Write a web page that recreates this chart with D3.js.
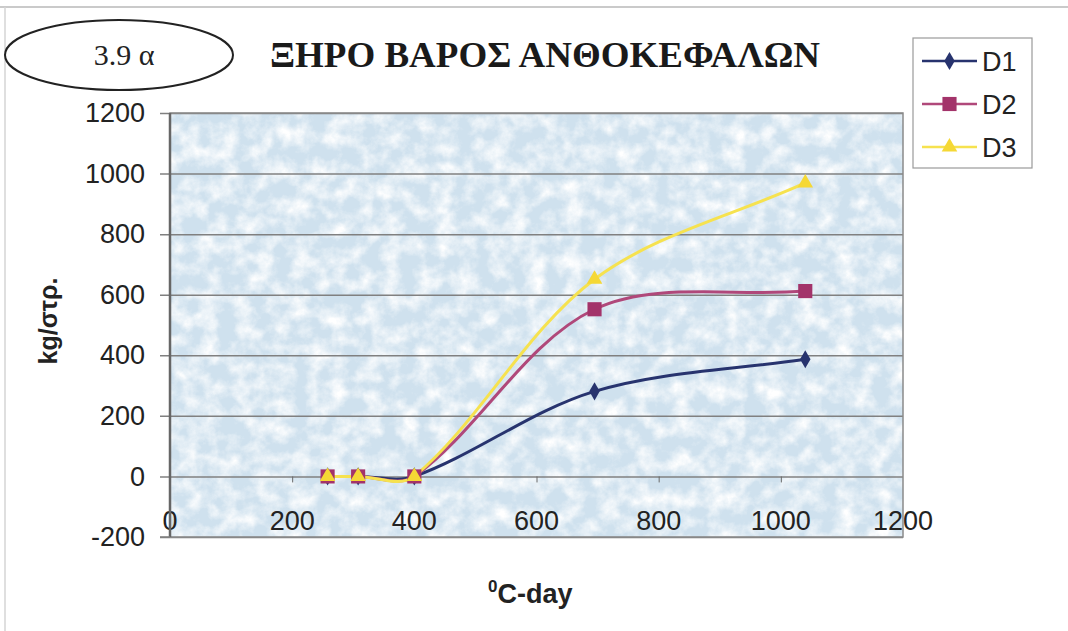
<!DOCTYPE html>
<html>
<head>
<meta charset="utf-8">
<script src="https://cdn.jsdelivr.net/npm/d3@7"></script>
<style>
  html, body { margin: 0; padding: 0; background: #ffffff; }
  svg { display: block; }
</style>
</head>
<body>
<svg id="chart" width="1068" height="631"></svg>
<script>
// Accumulated degree-days (x) and dry weight of flower heads in kg/στρ. (y)
const degreeDays = [258, 308, 400, 695, 1040];
const seriesNames = ["D1", "D2", "D3"];
const d1Values = [0, 0, 0, 281, 387];
const d2Values = [0, 0, 0, 552, 612];
const d3Values = [0, 0, 0, 651, 969];
const xTicks = [0, 200, 400, 600, 800, 1000, 1200];
const yTicks = [-200, 0, 200, 400, 600, 800, 1000, 1200];

const svg = d3.select("#chart");
const W = 1068, H = 631;
const plot = { left: 170, right: 903, top: 113, bottom: 537 };

const x = d3.scaleLinear().domain([0, 1200]).range([plot.left, plot.right]);
const y = d3.scaleLinear().domain([-200, 1200]).range([plot.bottom, plot.top]);

const colors = { D1: "#27336e", D2: "#b0487a", D3: "#f6e24f" };
const markerFill = { D1: "#27336e", D2: "#a3336a", D3: "#f5d835" };
const FONT = "Arial, 'Liberation Sans', sans-serif";
const SERIF = "'Liberation Serif', 'Times New Roman', serif";

// Spreadsheet-style smoothing: Bezier segments whose control arms are
// weighted by the lengths of the neighbouring segments.
function curveSmooth(context) {
  let pts;
  const dist = (a, b) => Math.hypot(b[0] - a[0], b[1] - a[1]);
  return {
    areaStart() {}, areaEnd() {},
    lineStart() { pts = []; },
    point(px, py) { pts.push([+px, +py]); },
    lineEnd() {
      const n = pts.length;
      if (!n) return;
      context.moveTo(pts[0][0], pts[0][1]);
      for (let i = 0; i < n - 1; i++) {
        const p0 = pts[Math.max(i - 1, 0)], p1 = pts[i], p2 = pts[i + 1], p3 = pts[Math.min(i + 2, n - 1)];
        const d01 = dist(p0, p1), d12 = dist(p1, p2), d23 = dist(p2, p3);
        const f1 = d01 + d12 > 0 ? d12 / (d01 + d12) / 3 : 0;
        const f2 = d12 + d23 > 0 ? d12 / (d12 + d23) / 3 : 0;
        context.bezierCurveTo(
          p1[0] + (p2[0] - p0[0]) * f1, p1[1] + (p2[1] - p0[1]) * f1,
          p2[0] - (p3[0] - p1[0]) * f2, p2[1] - (p3[1] - p1[1]) * f2,
          p2[0], p2[1]);
      }
    }
  };
}

// Frame lines of the sheet
svg.append("line").attr("x1", 0).attr("x2", W).attr("y1", 7).attr("y2", 7)
  .attr("stroke", "#b8b8b8").attr("stroke-width", 1.5);
svg.append("line").attr("x1", 5).attr("x2", 5).attr("y1", 7).attr("y2", H)
  .attr("stroke", "#d4d4d4").attr("stroke-width", 1.5);

// Fine marbled pale-blue texture for the plot area
const defs = svg.append("defs");
const filt = defs.append("filter").attr("id", "marble")
  .attr("x", 0).attr("y", 0).attr("width", 1).attr("height", 1);
filt.append("feTurbulence").attr("type", "fractalNoise")
  .attr("baseFrequency", "0.055").attr("numOctaves", 5).attr("seed", 11).attr("result", "noise");
filt.append("feColorMatrix").attr("in", "noise").attr("type", "matrix")
  .attr("values", "0 0 0 0 1  0 0 0 0 1  0 0 0 0 1  2.0 0 0 0 -0.72")
  .attr("result", "tint");
filt.append("feComposite").attr("in", "tint").attr("in2", "SourceGraphic").attr("operator", "in");

svg.append("rect")
  .attr("x", plot.left).attr("y", plot.top)
  .attr("width", plot.right - plot.left).attr("height", plot.bottom - plot.top)
  .attr("fill", "#cfe1ee");
svg.append("rect")
  .attr("x", plot.left).attr("y", plot.top)
  .attr("width", plot.right - plot.left).attr("height", plot.bottom - plot.top)
  .attr("fill", "#ffffff").attr("filter", "url(#marble)");

// Horizontal gridlines with the y axis on the left
const yAxis = d3.axisLeft(y).tickValues(yTicks)
  .tickSize(-(plot.right - plot.left)).tickSizeOuter(0).tickPadding(25)
  .tickFormat(d => String(d));
const gy = svg.append("g").attr("transform", `translate(${plot.left},0)`).call(yAxis);
gy.select(".domain").remove();
gy.selectAll(".tick line")
  .attr("x1", -10)
  .attr("stroke", "#808080").attr("stroke-width", 1.5);
gy.selectAll(".tick text")
  .attr("font-family", FONT)
  .attr("font-size", 27).attr("fill", "#222");

// x axis crosses at y = 0; its labels sit near the bottom of the plot
const xAxis = d3.axisBottom(x).tickValues(xTicks.filter(v => v > 0 && v < 1200))
  .tickSize(6).tickSizeOuter(0).tickFormat("");
const gx = svg.append("g").attr("transform", `translate(0,${y(0)})`).call(xAxis);
gx.select(".domain").remove();
gx.selectAll(".tick line").attr("stroke", "#6a6a6a").attr("stroke-width", 1);

svg.append("g").selectAll("text").data(xTicks).join("text")
  .attr("x", d => x(d)).attr("y", 530)
  .attr("text-anchor", "middle")
  .attr("font-family", FONT)
  .attr("font-size", 27).attr("fill", "#222")
  .text(d => d);

// Plot border (drawn over the end labels)
svg.append("rect")
  .attr("x", plot.left).attr("y", plot.top)
  .attr("width", plot.right - plot.left).attr("height", plot.bottom - plot.top)
  .attr("fill", "none").attr("stroke", "#8a8a8a").attr("stroke-width", 1.5);
svg.append("line").attr("x1", plot.left).attr("x2", plot.left)
  .attr("y1", plot.top).attr("y2", plot.bottom)
  .attr("stroke", "#666").attr("stroke-width", 2.5);
svg.append("line").attr("x1", plot.left - 10).attr("x2", plot.left)
  .attr("y1", plot.bottom).attr("y2", plot.bottom)
  .attr("stroke", "#808080").attr("stroke-width", 1.5);

// Series
const series = [
  { name: "D1", values: d1Values },
  { name: "D2", values: d2Values },
  { name: "D3", values: d3Values }
];
const line = d3.line()
  .x((d, i) => x(degreeDays[i]))
  .y(d => y(d))
  .curve(curveSmooth);

const sym = {
  D1: d3.symbol().type(d3.symbolDiamond).size(95),
  D2: d3.symbol().type(d3.symbolSquare).size(200),
  D3: d3.symbol().type(d3.symbolTriangle).size(105)
};

series.forEach(s => {
  svg.append("path").datum(s.values)
    .attr("d", line).attr("fill", "none")
    .attr("stroke", colors[s.name]).attr("stroke-width", 3);
});
series.forEach(s => {
  svg.append("g").selectAll("path").data(s.values).join("path")
    .attr("transform", (d, i) => `translate(${x(degreeDays[i])},${y(d)})`)
    .attr("d", sym[s.name]())
    .attr("fill", markerFill[s.name]);
});

// Legend
const lg = svg.append("g");
lg.append("rect").attr("x", 913).attr("y", 38).attr("width", 119).attr("height", 130)
  .attr("fill", "#ffffff").attr("stroke", "#9a9a9a").attr("stroke-width", 1.2);
seriesNames.forEach((n, i) => {
  const cy = 61 + i * 43;
  lg.append("line").attr("x1", 922).attr("x2", 977).attr("y1", cy).attr("y2", cy)
    .attr("stroke", colors[n]).attr("stroke-width", 2.5);
  lg.append("path").attr("transform", `translate(949.5,${cy})`)
    .attr("d", sym[n]()).attr("fill", markerFill[n]);
  lg.append("text").attr("x", 982).attr("y", cy + 10)
    .attr("font-family", FONT)
    .attr("font-size", 27).attr("fill", "#222").text(n);
});

// Figure tag in an ellipse
svg.append("ellipse").attr("cx", 119).attr("cy", 55).attr("rx", 114).attr("ry", 35)
  .attr("fill", "none").attr("stroke", "#222").attr("stroke-width", 2);
svg.append("text").attr("x", 124).attr("y", 65).attr("text-anchor", "middle")
  .attr("font-family", SERIF)
  .attr("font-size", 30).attr("fill", "#222").text("3.9 α");

// Title
svg.append("text").attr("x", 270).attr("y", 67)
  .attr("font-family", SERIF)
  .attr("font-weight", "bold").attr("font-size", 36).attr("fill", "#1a1a1a")
  .attr("textLength", 550).attr("lengthAdjust", "spacingAndGlyphs")
  .text("ΞΗΡΟ ΒΑΡΟΣ ΑΝΘΟΚΕΦΑΛΩΝ");

// Axis titles
svg.append("text")
  .attr("transform", "translate(57,321) rotate(-90)")
  .attr("text-anchor", "middle")
  .attr("font-family", FONT)
  .attr("font-weight", "bold").attr("font-size", 25).attr("fill", "#222")
  .text("kg/στρ.");

const xt = svg.append("text").attr("x", 488).attr("y", 603)
  .attr("font-family", FONT)
  .attr("font-weight", "bold").attr("font-size", 27).attr("fill", "#222");
xt.append("tspan").attr("font-size", 17).attr("dy", -11).text("0");
xt.append("tspan").attr("dy", 11).text("C-day");
</script>
</body>
</html>
